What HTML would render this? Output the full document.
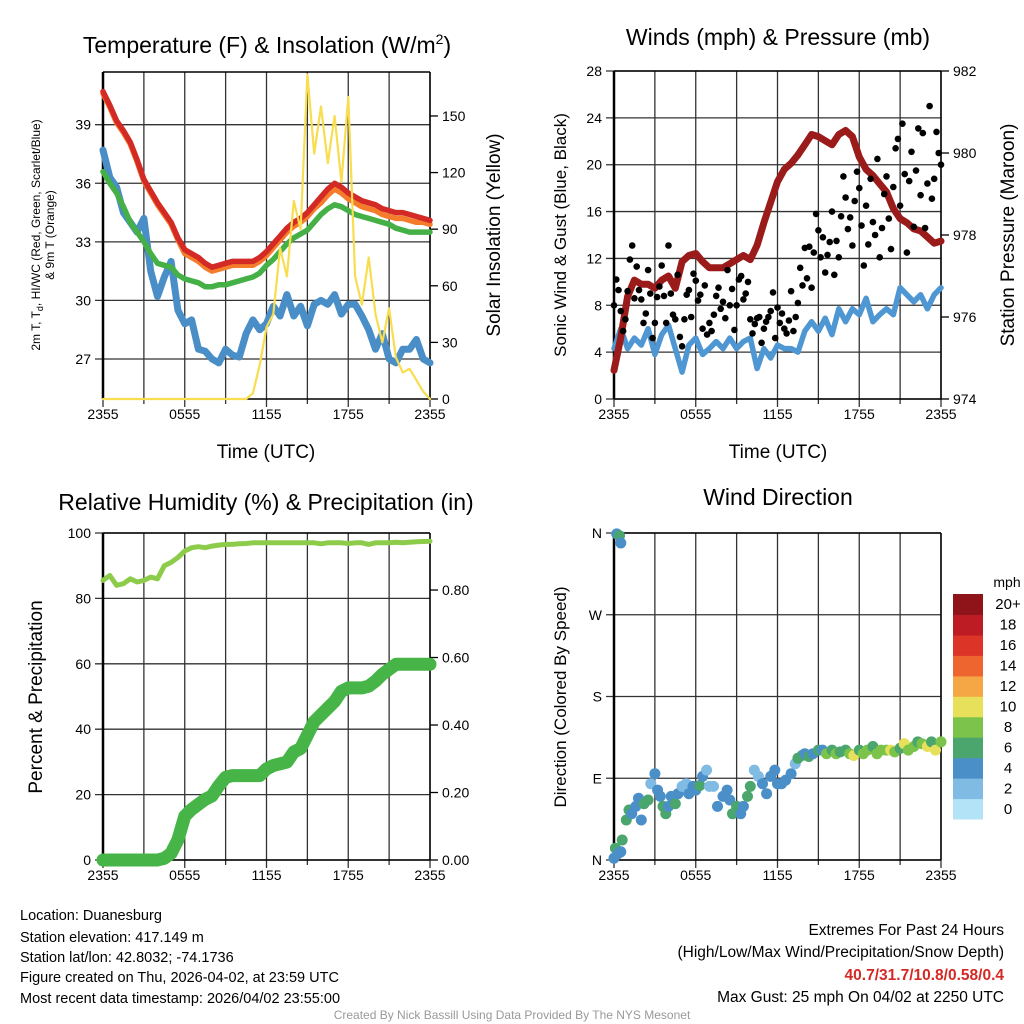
<!DOCTYPE html>
<html><head><meta charset="utf-8"><style>
html,body{margin:0;padding:0;background:#fff;}
svg{display:block;font-family:"Liberation Sans",Arial,sans-serif;}
</style></head><body>
<svg id="chart" width="1024" height="1024" viewBox="0 0 1024 1024" xmlns="http://www.w3.org/2000/svg">
<rect width="1024" height="1024" fill="#fff"/>
<g id="layer"></g>
<text x="267" y="53" font-size="23" text-anchor="middle">Temperature (F) &amp; Insolation (W/m<tspan font-size="14" dy="-9">2</tspan><tspan dy="9">)</tspan></text>
<text x="778" y="45" font-size="23" text-anchor="middle">Winds (mph) &amp; Pressure (mb)</text>
<text x="266" y="510" font-size="23" text-anchor="middle">Relative Humidity (%) &amp; Precipitation (in)</text>
<text x="778" y="505" font-size="23" text-anchor="middle">Wind Direction</text>
<text x="266" y="458" font-size="19" text-anchor="middle">Time (UTC)</text>
<text x="778" y="458" font-size="19" text-anchor="middle">Time (UTC)</text>
<text font-size="12" text-anchor="middle" transform="translate(40,235) rotate(-90)">2m T, T<tspan font-size="9" dy="3">d</tspan><tspan dy="-3">, HI/WC (Red, Green, Scarlet/Blue)</tspan></text>
<text font-size="12" text-anchor="middle" transform="translate(54,235) rotate(-90)">&amp; 9m T (Orange)</text>
<text font-size="19" text-anchor="middle" transform="translate(500,235) rotate(-90)">Solar Insolation (Yellow)</text>
<text font-size="17" text-anchor="middle" transform="translate(566,235) rotate(-90)">Sonic Wind &amp; Gust (Blue, Black)</text>
<text font-size="19" text-anchor="middle" transform="translate(1014,235) rotate(-90)">Station Pressure (Maroon)</text>
<text font-size="19" text-anchor="middle" transform="translate(42,697) rotate(-90)">Percent &amp; Precipitation</text>
<text font-size="17" text-anchor="middle" transform="translate(566,697) rotate(-90)">Direction (Colored By Speed)</text>
<g font-size="14.5">
<text x="20" y="920">Location: Duanesburg</text>
<text x="20" y="942">Station elevation: 417.149 m</text>
<text x="20" y="962">Station lat/lon: 42.8032; -74.1736</text>
<text x="20" y="982">Figure created on Thu, 2026-04-02, at 23:59 UTC</text>
<text x="20" y="1003">Most recent data timestamp: 2026/04/02 23:55:00</text>
</g>
<g font-size="15.5" text-anchor="end">
<text x="1004" y="935">Extremes For Past 24 Hours</text>
<text x="1004" y="957">(High/Low/Max Wind/Precipitation/Snow Depth)</text>
<text x="1004" y="980" fill="#d42a26" font-weight="bold">40.7/31.7/10.8/0.58/0.4</text>
<text x="1004" y="1002">Max Gust: 25 mph On 04/02 at 2250 UTC</text>
</g>
<text x="512" y="1019" font-size="12" fill="#999" text-anchor="middle">Created By Nick Bassill Using Data Provided By The NYS Mesonet</text>
</svg>
<script>
const hours=[0,0.5,1,1.5,2,2.5,3,3.5,4,4.5,5,5.5,6,6.5,7,7.5,8,8.5,9,9.5,10,10.5,11,11.5,12,12.5,13,13.5,14,14.5,15,15.5,16,16.5,17,17.5,18,18.5,19,19.5,20,20.5,21,21.5,22,22.5,23,23.5,24];
const xTickLabels=["2355","0555","1155","1755","2355"];
const tempTicks=[27,30,33,36,39];
const insolTicks=[0,30,60,90,120,150];
const temp2m=[40.7,40.0,39.2,38.7,38.1,37.2,36.2,35.6,35.0,34.5,34.0,33.2,32.6,32.4,32.2,31.9,31.7,31.8,31.9,32.0,32.0,32.0,32.0,32.2,32.5,32.9,33.3,33.7,34.0,34.2,34.5,34.9,35.3,35.7,36.0,35.8,35.5,35.3,35.1,35.0,34.9,34.7,34.6,34.5,34.5,34.4,34.3,34.2,34.1];
const temp9m=[40.6,39.9,39.1,38.6,38.0,37.1,36.1,35.5,34.9,34.4,33.9,33.1,32.4,32.2,32.0,31.7,31.5,31.6,31.7,31.8,31.8,31.8,31.8,32.0,32.3,32.7,33.1,33.5,33.8,34.0,34.3,34.7,35.0,35.4,35.7,35.5,35.2,35.0,34.8,34.7,34.6,34.4,34.3,34.2,34.2,34.1,34.0,34.0,33.9];
const dewGreen=[36.6,36.0,35.5,34.8,34.0,33.5,33.0,32.4,31.9,31.8,31.7,31.3,31.1,31.0,30.9,30.7,30.7,30.8,30.8,30.9,31.0,31.1,31.2,31.4,31.8,32.1,32.5,32.9,33.2,33.4,33.6,34.0,34.4,34.7,34.9,34.8,34.6,34.4,34.3,34.2,34.1,34.0,33.9,33.7,33.6,33.5,33.5,33.5,33.5];
const hiwcBlue=[37.7,36.3,35.8,34.5,34.0,33.5,34.2,31.5,30.2,31.2,32.0,29.5,28.8,29.0,27.5,27.4,27.0,26.8,27.5,27.2,27.1,28.3,29.0,28.5,28.8,29.7,29.2,30.3,29.2,29.7,28.7,29.8,30.0,29.8,30.3,29.3,29.8,29.8,29.2,28.5,27.5,28.3,27.0,26.8,27.5,27.5,28.0,27.0,26.8];
const insolation=[0,0,0,0,0,0,0,0,0,0,0,0,0,0,0,0,0,0,0,0,0,0,3,18,38,45,80,65,105,90,172,130,155,125,150,115,160,65,50,75,45,30,48,22,14,16,10,4,0];
const windTicks=[0,4,8,12,16,20,24,28];
const pressTicks=[974,976,978,980,982];
const sonicWind=[4.3,6.0,4.3,5.2,4.6,6.0,3.8,5.5,6.3,4.3,2.3,4.6,5.2,3.8,4.3,4.9,4.3,5.2,4.3,4.9,5.2,2.6,4.3,3.5,4.6,4.3,4.3,4.0,5.8,6.6,5.8,6.9,5.5,7.7,6.6,7.7,7.2,8.6,6.6,7.2,7.7,7.2,9.5,8.9,8.3,8.9,7.7,8.9,9.5];
const pressure=[974.7,975.5,976.5,976.9,976.8,976.8,976.7,976.9,977.0,976.7,977.35,977.5,977.55,977.35,977.2,977.2,977.2,977.3,977.4,977.5,977.4,977.75,978.3,978.8,979.3,979.6,979.75,979.95,980.2,980.45,980.4,980.3,980.2,980.45,980.55,980.4,979.9,979.6,979.45,979.25,979.05,978.65,978.4,978.3,978.15,978.1,977.95,977.8,977.85];
const gustValues=[8.0,10.2,9.3,7.5,5.8,6.8, 9.2,11.9,13.1,8.6,11.3,9.3, 8.5,6.5,7.3,11.0,9.0,5.2, 6.5,8.7,9.6,11.4,8.8,6.5, 13.1,9.0,7.2,6.8,10.6,5.3, 4.5,6.8,8.9,9.3,7.0,10.7, 10.1,8.4,8.9,6.0,9.7,5.5, 6.5,5.8,7.2,8.8,9.5,7.7, 8.3,6.9,11.0,8.0,9.4,5.9, 8.0,10.2,10.5,8.5,9.0,10.0, 6.8,5.6,6.4,6.9,7.0,4.8, 6.0,6.6,7.0,7.5,9.1,5.2, 7.8,6.5,7.3,6.0,5.6,6.7, 9.2,5.8,7.0,8.2,11.2,9.7, 12.9,10.3,13.0,9.5,12.5,15.8, 14.4,12.1,13.8,10.8,12.3,13.4, 16.0,10.6,13.5,12.1,15.6,19.0, 17.2,14.5,15.5,13.1,16.9,19.4, 18.0,14.8,11.4,16.5,13.2,18.8, 15.1,14.0,20.5,12.1,14.6,17.5, 19.0,15.4,12.8,18.1,21.4,22.2, 16.5,23.5,19.2,12.5,18.6,21.1, 14.7,19.5,23.1,17.4,22.7,14.6, 18.4,25.0,17.1,18.8,22.8,21.0,20.0];
const rhTicks=[0,20,40,60,80,100];
const precipTicks=[0,0.2,0.4,0.6,0.8];
const precipTickLabels=["0.00","0.20","0.40","0.60","0.80"];
const relHumidity=[85.5,87,84,84.5,86,85,85.5,86.5,86,90,91,92.5,94.5,95.5,95.8,95.5,96,96.3,96.5,96.5,96.7,96.8,97,97,97,97,97,97,97,97,97,97,96.7,97,97,97,96.8,97,97,96.5,97,97,97,97.2,97,97.2,97.3,97.4,97.5];
const precip=[0,0,0,0,0,0,0,0,0,0.005,0.02,0.06,0.13,0.15,0.165,0.18,0.19,0.22,0.245,0.25,0.25,0.25,0.25,0.25,0.27,0.28,0.285,0.29,0.32,0.33,0.37,0.41,0.43,0.45,0.47,0.50,0.51,0.51,0.51,0.515,0.53,0.55,0.565,0.58,0.58,0.58,0.58,0.58,0.58];
const dirTickLabels=["N","E","S","W","N"];
const dirHours=[0,0.1,0.3,0.5,0.6,0.2,0.4,0.5,0.9,1.1,1.3,1.6,1.8,2,2.2,2.5,2.7,3,3.2,3.4,3.6,3.8,4,4.2,4.5,4.7,5,5.3,5.5,5.8,6,6.3,6.5,6.8,7,7.3,7.6,8,8.3,8.5,8.7,9,9.3,9.5,9.8,10,10.3,10.6,10.9,11.2,11.5,11.8,12,12.3,12.6,13,13.3,13.5,13.8,14,14.3,14.6,15,15.3,15.6,16,16.3,16.6,17,17.3,17.6,18,18.3,18.6,19,19.3,19.6,20,20.3,20.6,21,21.3,21.6,22,22.3,22.6,23,23.3,23.6,24];
const dirValues=[2,13,7,9,22,359,357,349,44,55,51,59,68,44,62,66,84,95,77,70,59,51,59,70,62,73,81,84,73,81,77,82,92,99,81,81,59,70,77,66,51,59,51,59,70,81,99,92,84,73,92,99,84,84,88,95,106,112,115,117,114,117,121,121,117,121,117,119,121,117,115,121,117,121,125,117,121,121,121,119,123,128,121,125,130,128,125,130,121,130];
const dirSpeeds=[4,6,4,4,6,4,6,4,6,6,5,4,4,4,6,6,2,4,4,4,6,6,4,4,6,4,2,2,4,4,4,6,4,2,2,2,4,4,4,4,6,6,4,4,6,6,2,2,4,4,4,4,4,4,4,4,2,6,6,4,6,5,6,4,8,6,8,7,6,8,10,6,8,8,6,8,8,8,10,8,6,10,8,8,6,8,10,6,10,8];
const colorBins=["#b3e3f7","#7fbbe3","#4a8fc8","#4aa66d","#7bc34a","#e6e05a","#f4a744","#ef6530","#dd3428","#bd1c25","#8e1419"];
const colorBinLabels=["0","2","4","6","8","10","12","14","16","18","20+"];

const NS="http://www.w3.org/2000/svg";
const layer=document.getElementById('layer');
function mk(tag,attrs,parent){const e=document.createElementNS(NS,tag);for(const k in attrs)e.setAttribute(k,attrs[k]);(parent||layer).appendChild(e);return e;}
function scale(d0,d1,p0,p1){return v=>p0+(v-d0)/(d1-d0)*(p1-p0);}
function txt(x,y,s,anchor,size,parent){const t=mk('text',{x:x,y:y,'font-size':size||14,'text-anchor':anchor||'middle'},parent);t.textContent=s;return t;}

function frame(name,x0,x1,y0,y1,xs,hTicks,yS){
  const g=mk('g',{});
  
  
  for(let h=0;h<=24;h+=3){const x=xs(h);mk('line',{x1:x,x2:x,y1:y0,y2:y1+(h%6===0?8:5),stroke:'#333','stroke-width':1.3},g);}
  hTicks.forEach(v=>{const y=yS(v);mk('line',{x1:x0-8,x2:x1,y1:y,y2:y,stroke:'#333','stroke-width':1.3},g);});
  const xl=mk('g',{});
  
  
  xTickLabels.forEach((s,i)=>txt(xs(i*6),y1+20,s,'middle',14,xl));
  mk('line',{x1:x0,x2:x0,y1:y0,y2:y1,stroke:'#000','stroke-width':2.5},g);
  mk('line',{x1:x1,x2:x1,y1:y0,y2:y1,stroke:'#000','stroke-width':1.5},g);
  mk('line',{x1:x0,x2:x1,y1:y1,y2:y1,stroke:'#000','stroke-width':1.5},g);
  mk('line',{x1:x0,x2:x1,y1:y0,y2:y0,stroke:'#000','stroke-width':1.5},g);
}
function leftLabels(name,x0,ticks,labels,yS){
  const g=mk('g',{});
  
  
  ticks.forEach((v,i)=>txt(x0-12,yS(v)+5,labels?labels[i]:String(v),'end',14,g));
}
function rightAxis(name,x1,ticks,labels,yS){
  const g=mk('g',{});
  
  
  ticks.forEach((v,i)=>{const y=yS(v);mk('line',{x1:x1,x2:x1+8,y1:y,y2:y,stroke:'#000','stroke-width':1.3},g);txt(x1+12,y+5,labels?labels[i]:String(v),'start',14,g);});
}
function line(name,xs,ys,xv,yv,color,w){
  let d='';xv.forEach((h,i)=>{d+=(i?'L':'M')+xs(h).toFixed(1)+','+ys(yv[i]).toFixed(1);});
  const p=mk('path',{d:d,fill:'none',stroke:color,'stroke-width':w,'stroke-linejoin':'round','stroke-linecap':'round'});
  
  
}

// Panel 1
(function(){
  const x0=103,x1=430,y0=72,y1=399;
  const xs=scale(0,24,x0,x1), yT=scale(24.95,41.7,y1,y0), yI=scale(0,173.3,y1,y0);
  frame('temp-panel',x0,x1,y0,y1,xs,tempTicks,yT);
  leftLabels('temp-y-tick-labels',x0,tempTicks,null,yT);
  rightAxis('insolation-y-axis',x1,insolTicks,null,yI);
  line('hiwc-line-blue',xs,yT,hours,hiwcBlue,'#4a8ec7',7);
  line('dewpoint-line-green',xs,yT,hours,dewGreen,'#45b046',5.5);
  line('temp-9m-line-orange',xs,yT,hours,temp9m,'#f57c2a',5.5);
  line('temp-2m-line-red',xs,yT,hours,temp2m,'#d42a26',5.5);
  line('insolation-line-yellow',xs,yI,hours,insolation,'#f7dd4f',2.2);
})();
// Panel 2
(function(){
  const x0=614,x1=941,y0=71,y1=399;
  const xs=scale(0,24,x0,x1), yW=scale(0,28,y1,y0), yP=scale(974,982,y1,y0);
  frame('wind-panel',x0,x1,y0,y1,xs,windTicks,yW);
  leftLabels('wind-y-tick-labels',x0,windTicks,null,yW);
  rightAxis('pressure-y-axis',x1,pressTicks,null,yP);
  line('sonic-wind-line',xs,yW,hours,sonicWind,'#4f97d3',5.5);
  line('pressure-line',xs,yP,hours,pressure,'#9b1b1b',7);
  const g=mk('g',{});
  
  
  gustValues.forEach((v,i)=>{const c=mk('circle',{cx:xs(i/6).toFixed(1),cy:yW(v).toFixed(1),r:3.3,fill:'#000'},g);
    
    });
})();
// Panel 3
(function(){
  const x0=103,x1=430,y0=533,y1=860;
  const xs=scale(0,24,x0,x1), yR=scale(0,100,y1,y0), yP=scale(0,0.969,y1,y0);
  frame('rh-panel',x0,x1,y0,y1,xs,rhTicks,yR);
  leftLabels('rh-y-tick-labels',x0,rhTicks,null,yR);
  rightAxis('precip-y-axis',x1,precipTicks,precipTickLabels,yP);
  line('relative-humidity-line',xs,yR,hours,relHumidity,'#8ccc4a',5);
  line('precipitation-line',xs,yP,hours,precip,'#46b446',13);
})();
// Panel 4
(function(){
  const x0=614,x1=941,y0=533,y1=860;
  const xs=scale(0,24,x0,x1), yD=scale(0,360,y1,y0);
  frame('direction-panel',x0,x1,y0,y1,xs,[0,90,180,270,360],yD);
  leftLabels('direction-y-tick-labels',x0,[0,90,180,270,360],dirTickLabels,yD);
  const g=mk('g',{});
  
  
  dirValues.forEach((v,i)=>{const b=Math.min(10,Math.floor(dirSpeeds[i]/2));
    const c=mk('circle',{cx:xs(dirHours[i]).toFixed(1),cy:yD(v).toFixed(1),r:5.5,fill:colorBins[b]},g);
    
    });
  const lg=mk('g',{});
  
  
  txt(1007,587,'mph','middle',14,lg);
  const bh=(819-594)/11;
  colorBins.forEach((c,i)=>{const y=819-(i+1)*bh;mk('rect',{x:953,y:y.toFixed(1),width:30,height:(bh+0.5).toFixed(1),fill:c},lg);
    txt(1008,y+bh/2+5,colorBinLabels[i],'middle',15,lg);});
})();
</script>
</body></html>
